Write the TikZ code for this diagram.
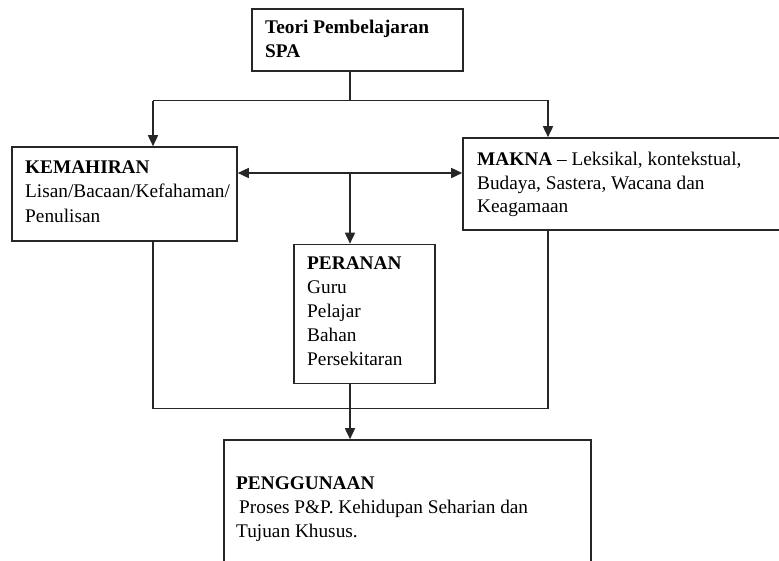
\documentclass[tikz,border=0pt]{standalone}
\usepackage{fontspec}
\setmainfont{Liberation Serif}
\usetikzlibrary{arrows.meta,calc}
\begin{document}
\begin{tikzpicture}[x=1pt,y=-1pt,
  box/.style={draw=black!85,line width=1.6pt,rectangle,inner sep=0pt},
  conn/.style={draw=black!85,line width=1.6pt},
  arr/.style={conn,-{Triangle[length=11pt,width=10pt]}},
  darr/.style={conn,{Triangle[length=11pt,width=10pt]}-{Triangle[length=11pt,width=10pt]}},
  txt/.style={anchor=base west,inner sep=0pt,font=\fontsize{19.3}{24}\selectfont},
  btxt/.style={txt,font=\fontsize{19.3}{24}\selectfont\bfseries}]
\clip (0,0) rectangle (779,560);
\fill[white] (0,0) rectangle (779,560);
% boxes
\node[box,minimum width=211pt,minimum height=62pt] (top) at (357.5,40) {};
\node[box,minimum width=225pt,minimum height=94pt] (kem) at (124.5,194) {};
\node[box,minimum width=340pt,minimum height=92pt] (mak) at (633,184) {};
\node[box,minimum width=141pt,minimum height=139pt] (per) at (364.5,314) {};
\node[box,minimum width=367pt,minimum height=170pt] (pen) at (407.5,525) {};
% helper coordinates
\coordinate (cx) at (350,0);
\coordinate (kx) at (153,0);
\coordinate (mx) at (548,0);
\coordinate (ty) at (0,100.5);
\coordinate (dy) at (0,173);
\coordinate (by) at (0,408.5);
% connectors
\draw[conn] (top.south -| cx) -- (cx |- ty);
\draw[arr] (kx |- ty) -- (mx |- ty) -- (mak.north -| mx);
\draw[arr] (kx |- ty) -- (kem.north -| kx);
\draw[darr] (kem.east |- dy) -- (mak.west |- dy);
\draw[arr] (cx |- dy) -- (per.north -| cx);
\draw[conn] (kem.south -| kx) -- (kx |- by) -- (mx |- by) -- (mak.south -| mx);
\draw[arr] (per.south -| cx) -- (pen.north -| cx);
% texts
\node[btxt] (t1) at (265,33) {Teori Pembelajaran};
\node[btxt] (t2) at (265,57) {SPA};
\node[btxt] (k1) at (25,173) {KEMAHIRAN};
\node[txt] (k2) at (25,197) {Lisan/Bacaan/Kefahaman/};
\node[txt] (k3) at (25,222) {Penulisan};
\node[txt] (m1) at (477,165) {\textbf{MAKNA} -- Leksikal, kontekstual,};
\node[txt] (m2) at (477,189) {Budaya, Sastera, Wacana dan};
\node[txt] (m3) at (477,212) {Keagamaan};
\node[btxt] (p1) at (307,269) {PERANAN};
\node[txt] (p2) at (307,293) {Guru};
\node[txt] (p3) at (307,317) {Pelajar};
\node[txt] (p4) at (307,341) {Bahan};
\node[txt] (p5) at (307,365) {Persekitaran};
\node[btxt] (g1) at (236,489) {PENGGUNAAN};
\node[txt] (g2) at (239,513) {Proses P\&P. Kehidupan Seharian dan};
\node[txt] (g3) at (236,537) {Tujuan Khusus.};
\end{tikzpicture}
\end{document}
